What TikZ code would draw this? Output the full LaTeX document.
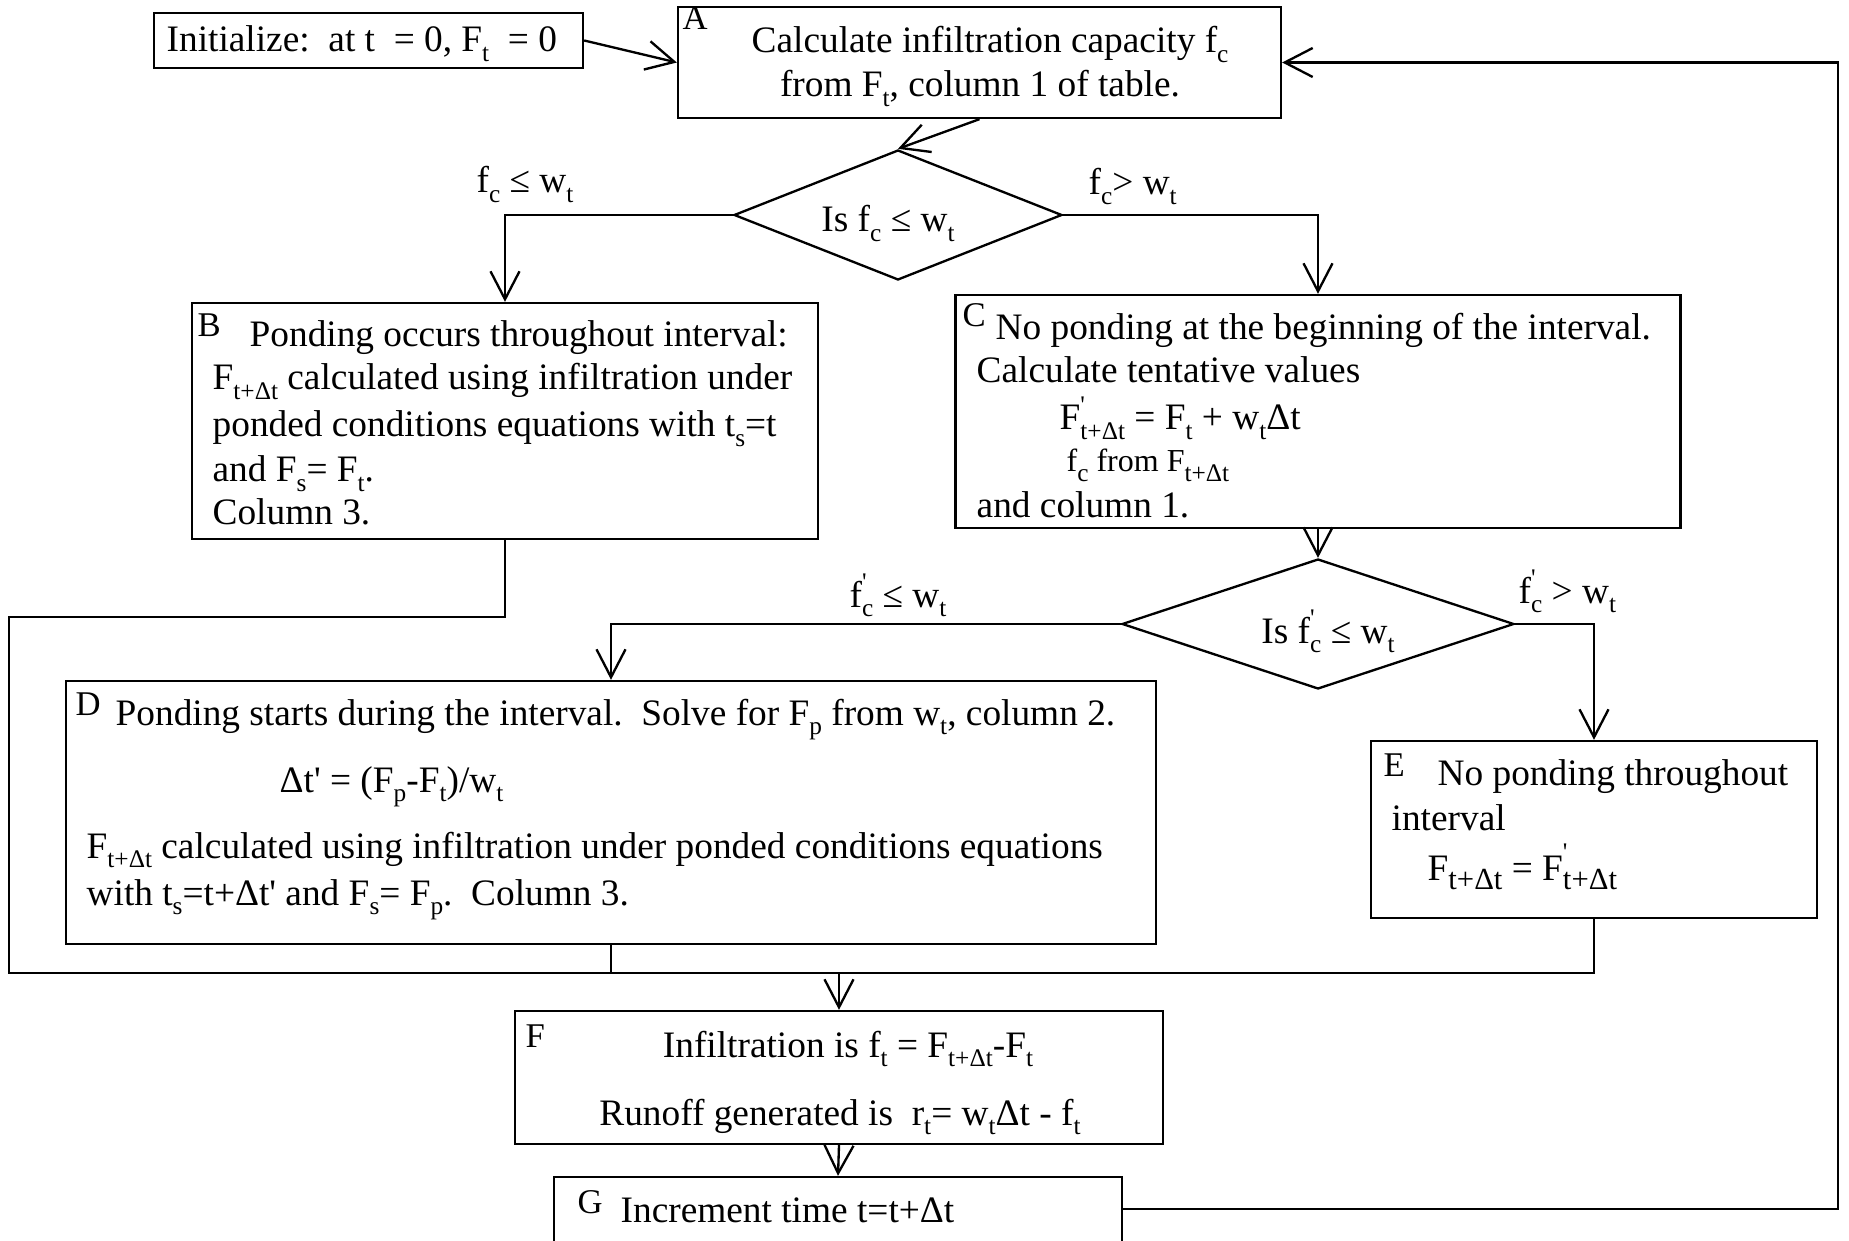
\documentclass[tikz,border=0pt]{standalone}
\usepackage{fontspec}
\setmainfont{Liberation Serif}
\usetikzlibrary{arrows.meta,shapes.geometric}
\newcommand\sbs[1]{\raisebox{-2.8pt}{\fontsize{7.6pt}{8pt}\selectfont #1}}
\newcommand\bsbs[1]{\raisebox{-2.8pt}{\fontsize{9.2pt}{10pt}\selectfont #1}}
\newcommand\prsb[1]{\rlap{\raisebox{5pt}{\fontsize{7.6pt}{8pt}\selectfont\textquotesingle}}\sbs{#1}}
\newcommand\bprsb[1]{\rlap{\raisebox{6pt}{\fontsize{7.6pt}{8pt}\selectfont\textquotesingle}}\bsbs{#1}}
\newcommand\msz{\fontsize{11.2pt}{13pt}\selectfont}
\newcommand\ssz{\fontsize{9.6pt}{11pt}\selectfont}
\newcommand\lsz{\fontsize{10.4pt}{11pt}\selectfont}
\tikzset{
  box/.style n args={2}{draw, line width=0.7pt, minimum width=#1*0.3pt, minimum height=#2*0.3pt, inner sep=0pt},
  dia/.style n args={2}{diamond, draw, line width=0.7pt, minimum width=#1*0.3pt, minimum height=#2*0.3pt, inner sep=0pt},
  txt/.style={anchor=base west, inner sep=0pt, font=\msz},
  ctxt/.style={anchor=base, inner sep=0pt, font=\msz},
  lbl/.style={anchor=base west, inner sep=0pt, font=\lsz},
  conn/.style={line width=0.7pt},
  arr/.style={line width=0.7pt, -{Straight Barb[length=8.4pt,width=8.7pt,line width=0.7pt]}}
}
\begin{document}
\begin{tikzpicture}[x=0.3pt,y=-0.3pt]
\useasboundingbox (0,0) rectangle (1849,1241);
% boxes
\node[box={429}{55}] (init) at (368.5,40.5) {};
\node[box={603}{111}] (A) at (979.5,62.5) {};
\node[dia={328}{130}] (D1) at (898,215) {};
\node[box={626}{236}] (B) at (505,421) {};
\node[box={725}{233}] (C) at (1318,411.5) {};
\node[dia={392}{130}] (D2) at (1318,624) {};
\node[box={1090}{263}] (D) at (611,812.5) {};
\node[box={446}{177}] (E) at (1594,829.5) {};
\node[box={648}{133}] (F) at (839,1077.5) {};
\node[box={568}{130}] (G) at (838,1242) {};
% texts
\node[txt] (tinit) at (166,52) {Initialize:\ \ at t \ = 0, F\sbs{t} \ = 0};
\node[lbl] (lA) at (682,30) {A};
\node[ctxt] (tA1) at (990,53) {Calculate infiltration capacity f\sbs{c}};
\node[ctxt] (tA2) at (980,97) {from F\sbs{t}, column 1 of table.};
\node[ctxt] (tD1) at (888,232) {Is f\sbs{c} ≤ w\sbs{t}};
\node[txt] (yes1) at (476,193) {f\sbs{c} ≤ w\sbs{t}};
\node[txt] (no1) at (1088,195) {f\sbs{c}> w\sbs{t}};
\node[lbl] (lB) at (197,337) {B};
\node[txt] (tB1) at (249,347) {Ponding occurs throughout interval:};
\node[txt] (tB2) at (212,390) {F\sbs{t+Δt} calculated using infiltration under};
\node[txt] (tB3) at (212,437) {ponded conditions equations with t\sbs{s}=t};
\node[txt] (tB4) at (212,482) {and F\sbs{s}= F\sbs{t}.};
\node[txt] (tB5) at (212,525) {Column 3.};
\node[lbl] (lC) at (962,327) {C};
\node[txt] (tC1) at (995,340) {No ponding at the beginning of the interval.};
\node[txt] (tC2) at (976,383) {Calculate tentative values};
\node[txt] (tC3) at (1059,430) {F\prsb{t+Δt} = F\sbs{t} + w\sbs{t}Δt};
\node[txt,font=\ssz] (tC4) at (1066,472) {f\sbs{c} from F\sbs{t+Δt}};
\node[txt] (tC5) at (976,518) {and column 1.};
\node[ctxt] (tD2) at (1328,643) {Is f\prsb{c} ≤ w\sbs{t}};
\node[txt] (yes2) at (849,607) {f\prsb{c} ≤ w\sbs{t}};
\node[txt] (no2) at (1518,603) {f\prsb{c} > w\sbs{t}};
\node[lbl] (lD) at (75,715) {D};
\node[txt] (tDa) at (115,725) {Ponding starts during the interval.\ \ Solve for F\sbs{p} from w\sbs{t}, column 2.};
\node[txt] (tDb) at (279,792) {Δt\textquotesingle{} = (F\sbs{p}-F\sbs{t})/w\sbs{t}};
\node[txt] (tDc) at (86,858) {F\sbs{t+Δt} calculated using infiltration under ponded conditions equations};
\node[txt] (tDd) at (86,905) {with t\sbs{s}=t+Δt\textquotesingle{} and F\sbs{s}= F\sbs{p}.\ \ Column 3.};
\node[lbl] (lE) at (1383,776) {E};
\node[txt] (tE1) at (1437,785) {No ponding throughout};
\node[txt] (tE2) at (1391,830) {interval};
\node[txt] (tE3) at (1427,880) {F\bsbs{t+Δt} = F\bprsb{t+Δt}};
\node[lbl] (lF) at (525,1047) {F};
\node[ctxt] (tF1) at (848,1057) {Infiltration is f\sbs{t} = F\sbs{t+Δt}-F\sbs{t}};
\node[ctxt] (tF2) at (840,1125) {Runoff generated is\ \ r\sbs{t}= w\sbs{t}Δt - f\sbs{t}};
\node[lbl] (lG) at (577,1213) {G};
\node[txt] (tG) at (620,1222) {Increment time t=t+Δt};
% coordinates
\coordinate (bj) at (9,617);
\coordinate (bl) at (9,973);
\coordinate (Gr) at (1122,1209);
\coordinate (ret) at (1838,1209);
% connectors
\draw[arr] (init.east) -- (A.west);
\draw[arr] (A.south) -- (D1.north);
\draw[arr] (D1.west) -| (B.north);
\draw[arr] (D1.east) -| (C.north);
\draw[arr] (C.south) -- (D2.north);
\draw[arr] (D2.west) -| (D.north);
\draw[arr] (D2.east) -| (E.north);
\draw[conn] (B.south) |- (bj) -- (bl) -- (F.north |- bl);
\draw[conn] (D.south) -- (D.south |- bl);
\draw[conn] (E.south) -- (E.south |- bl) -- (F.north |- bl);
\draw[arr] (F.north |- bl) -- (F.north);
\draw[arr] (F.south) -- (G.north);
\draw[arr] (Gr) -- (ret) -- (ret |- A.east) -- (A.east);
\end{tikzpicture}
\end{document}
